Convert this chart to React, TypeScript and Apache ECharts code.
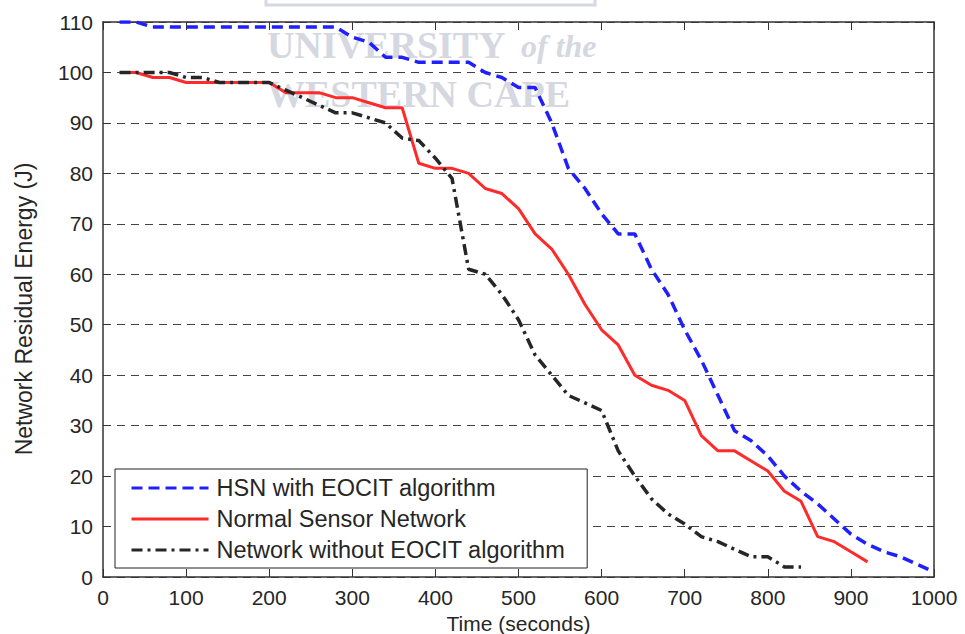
import React, { useEffect, useRef } from "react";
import * as echarts from "echarts";

// Time axis samples (seconds)
const TIME_S = [
  20, 40, 60, 80, 100, 120, 140, 160, 180, 200, 220, 240, 260, 280, 300, 320, 340, 360, 380, 400,
  420, 440, 460, 480, 500, 520, 540, 560, 580, 600, 620, 640, 660, 680, 700, 720, 740, 760, 780, 800,
  820, 840, 860, 880, 900, 920, 940, 960, 980, 1000,
];

// Network residual energy (J)
const HSN_EOCIT = [
  110, 110, 109, 109, 109, 109, 109, 109, 109, 109, 109, 109, 109, 109, 107, 106, 103, 103, 102, 102,
  102, 102, 100, 99, 97, 97, 90, 81, 77, 72, 68, 68, 61, 56, 49, 43, 36, 29, 27, 24,
  20, 17, 14.5, 11.5, 8.5, 6.5, 5, 4, 2.5, 1,
];
const NORMAL_NET = [
  100, 100, 99, 99, 98, 98, 98, 98, 98, 98, 96, 96, 96, 95, 95, 94, 93, 93, 82, 81,
  81, 80, 77, 76, 73, 68, 65, 60, 54, 49, 46, 40, 38, 37, 35, 28, 25, 25, 23, 21,
  17, 15, 8, 7, 5, 3,
];
const WITHOUT_EOCIT = [
  100, 100, 100, 100, 99, 99, 98, 98, 98, 98, 96.5, 95, 93.5, 92, 92, 91, 90, 87, 86.5, 83,
  79, 61, 60, 56, 51, 44, 40, 36, 34.5, 33, 25, 20, 15.5, 12.5, 10.5, 8, 7, 5.5, 4, 4,
  2, 2,
];

const SERIES_NAMES = [
  "HSN with EOCIT algorithm",
  "Normal Sensor Network",
  "Network without EOCIT algorithm",
];

const X_NAME = "Time (seconds)";
const Y_NAME = "Network Residual Energy (J)";

const toPairs = (ys: number[]) => ys.map((y, i) => [TIME_S[i], y]);

export default function App() {
  const ref = useRef<HTMLDivElement>(null);

  useEffect(() => {
    if (!ref.current) return;
    const chart = echarts.init(ref.current, null, { renderer: "svg" });
    const font = "'Liberation Sans', Arial, Helvetica, sans-serif";
    const serif = "'Liberation Serif', 'Times New Roman', serif";
    const axisColor = "#333333";
    const textColor = "#262626";
    const wm = "#d5d7e1";

    const axisLine = { show: true, onZero: false, lineStyle: { color: axisColor, width: 1.5 } };
    const axisTick = { show: true, inside: true, length: 8, lineStyle: { color: axisColor, width: 1 } };
    const plain = (v: number) => String(v);

    chart.setOption({
      animation: false,
      backgroundColor: "#ffffff",
      textStyle: { fontFamily: font },
      grid: { left: 103, right: 31, top: 22, bottom: 57, containLabel: false, outerBoundsMode: "none" },
      xAxis: [
        {
          type: "value",
          min: 0,
          max: 1000,
          interval: 100,
          position: "bottom",
          name: X_NAME,
          nameLocation: "middle",
          nameGap: 31,
          nameTextStyle: { fontSize: 21, color: textColor, fontFamily: font, lineHeight: 21 },
          axisLine,
          axisTick,
          axisLabel: { fontSize: 21, color: textColor, margin: 10, showMinLabel: true, showMaxLabel: true, fontFamily: font, formatter: plain },
          splitLine: { show: false },
        },
        {
          type: "value",
          min: 0,
          max: 1000,
          interval: 100,
          position: "top",
          axisLine,
          axisTick,
          axisLabel: { show: false },
          splitLine: { show: false },
        },
      ],
      yAxis: [
        {
          type: "value",
          min: 0,
          max: 110,
          interval: 10,
          position: "left",
          axisLine,
          axisTick: { ...axisTick, length: 7 },
          axisLabel: { fontSize: 21, color: textColor, margin: 10, showMinLabel: true, showMaxLabel: true, fontFamily: font, formatter: plain },
          splitLine: { show: true, lineStyle: { color: "#444444", width: 1, type: [8, 6] } },
        },
        {
          type: "value",
          min: 0,
          max: 110,
          interval: 10,
          position: "right",
          axisLine,
          axisTick: { ...axisTick, length: 7 },
          axisLabel: { show: false },
          splitLine: { show: false },
        },
      ],
      legend: {
        orient: "vertical",
        left: 115,
        top: 469,
        padding: [7, 22, 6, 15],
        itemGap: 7,
        itemWidth: 77,
        itemHeight: 14,
        backgroundColor: "#ffffff",
        borderColor: "#222222",
        borderWidth: 1,
        borderRadius: 0,
        lineStyle: { width: 3 },
        itemStyle: { opacity: 0 },
        textStyle: { fontSize: 23.5, color: textColor, lineHeight: 24, fontFamily: font, padding: [0, 0, 0, 3] },
        data: SERIES_NAMES,
      },
      graphic: [
        {
          type: "text",
          silent: true,
          x: 24,
          y: 309,
          rotation: Math.PI / 2,
          style: { text: Y_NAME, fontFamily: font, fontSize: 23, fill: textColor, align: "center", verticalAlign: "middle" },
        },
        {
          type: "rect",
          silent: true,
          z: 0,
          shape: { x: 266, y: -20, width: 329, height: 25 },
          style: { fill: "none", stroke: wm, lineWidth: 3 },
        },
        {
          type: "text",
          silent: true,
          z: 0,
          x: 267,
          y: 45,
          style: { text: "UNIVERSITY", fontFamily: serif, fontSize: 38, fontWeight: "bold", fill: wm, verticalAlign: "middle", align: "left" },
        },
        {
          type: "text",
          silent: true,
          z: 0,
          x: 521,
          y: 46,
          style: { text: "of the", fontFamily: serif, fontSize: 32, fontStyle: "italic", fontWeight: "bold", fill: wm, verticalAlign: "middle", align: "left" },
        },
        {
          type: "text",
          silent: true,
          z: 0,
          x: 267,
          y: 94,
          style: { text: "WESTERN CAPE", fontFamily: serif, fontSize: 38, fontWeight: "bold", fill: wm, verticalAlign: "middle", align: "left" },
        },
      ],
      series: [
        {
          name: SERIES_NAMES[0],
          type: "line",
          xAxisIndex: 0,
          yAxisIndex: 0,
          symbol: "none",
          z: 3,
          data: toPairs(HSN_EOCIT),
          lineStyle: { color: "#2020ff", width: 3.5, type: [11, 6] },
          itemStyle: { color: "#2020ff" },
        },
        {
          name: SERIES_NAMES[1],
          type: "line",
          xAxisIndex: 0,
          yAxisIndex: 0,
          symbol: "none",
          z: 3,
          data: toPairs(NORMAL_NET),
          lineStyle: { color: "#ff2a2a", width: 3 },
          itemStyle: { color: "#ff2a2a" },
        },
        {
          name: SERIES_NAMES[2],
          type: "line",
          xAxisIndex: 0,
          yAxisIndex: 0,
          symbol: "none",
          z: 3,
          data: toPairs(WITHOUT_EOCIT),
          lineStyle: { color: "#262626", width: 3.5, type: [11, 5, 3, 5] },
          itemStyle: { color: "#262626" },
        },
      ],
    });

    return () => {
      chart.dispose();
    };
  }, []);

  return (
    <div
      ref={ref}
      style={{ position: "fixed", left: 0, top: 0, width: 965, height: 634, background: "#ffffff" }}
    />
  );
}
